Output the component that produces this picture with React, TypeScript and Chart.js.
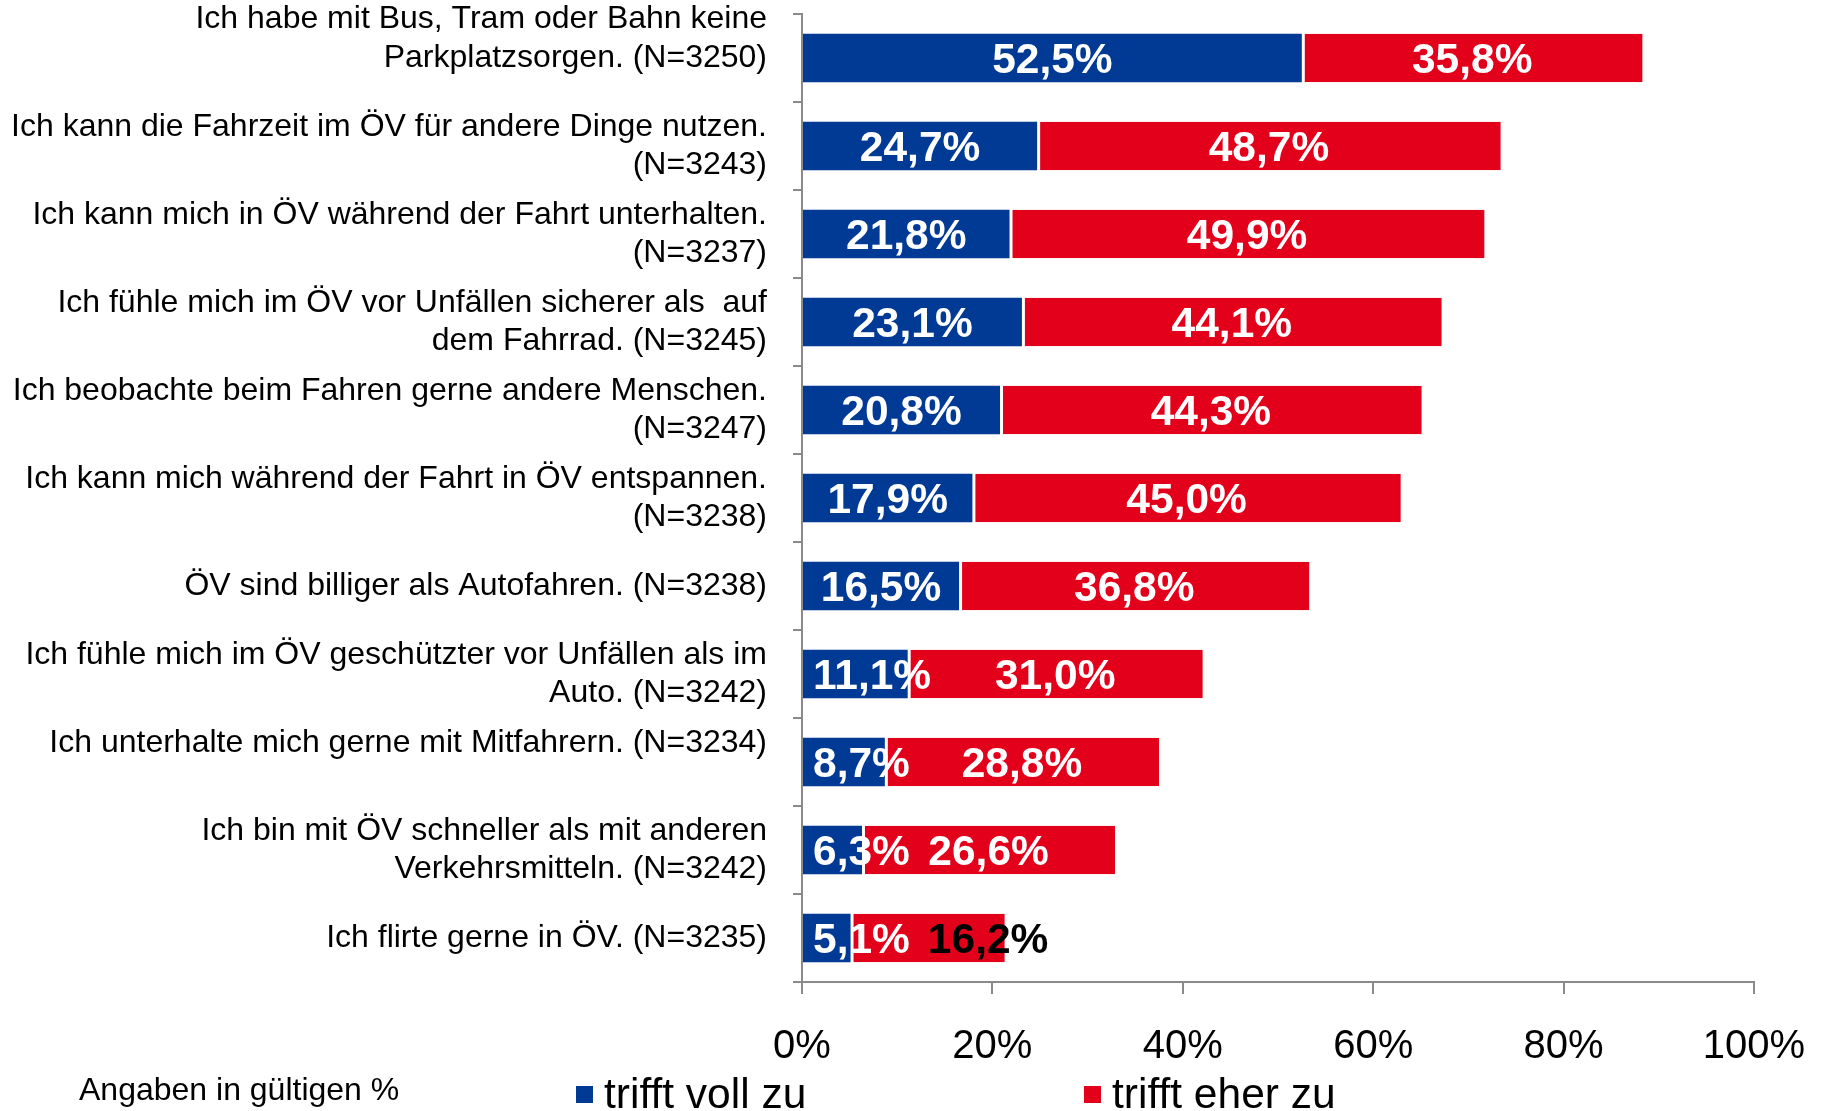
import { useEffect, useRef } from "react";
import { Chart, registerables } from "chart.js";

Chart.register(...registerables);

const categories: string[][] = [
  ["Ich habe mit Bus, Tram oder Bahn keine", "Parkplatzsorgen. (N=3250)", ""],
  ["Ich kann die Fahrzeit im ÖV für andere Dinge nutzen.", "(N=3243)"],
  ["Ich kann mich in ÖV während der Fahrt unterhalten.", "(N=3237)"],
  ["Ich fühle mich im ÖV vor Unfällen sicherer als  auf", "dem Fahrrad. (N=3245)"],
  ["Ich beobachte beim Fahren gerne andere Menschen.", "(N=3247)"],
  ["Ich kann mich während der Fahrt in ÖV entspannen.", "(N=3238)"],
  ["ÖV sind billiger als Autofahren. (N=3238)"],
  ["Ich fühle mich im ÖV geschützter vor Unfällen als im", "Auto. (N=3242)"],
  ["Ich unterhalte mich gerne mit Mitfahrern. (N=3234)", ""],
  ["Ich bin mit ÖV schneller als mit anderen", "Verkehrsmitteln. (N=3242)"],
  ["Ich flirte gerne in ÖV. (N=3235)"],
];

const trifftVollZu = [52.5, 24.7, 21.8, 23.1, 20.8, 17.9, 16.5, 11.1, 8.7, 6.3, 5.1];
const trifftEherZu = [35.8, 48.7, 49.9, 44.1, 44.3, 45.0, 36.8, 31.0, 28.8, 26.6, 16.2];
const xTickValues = [0, 20, 40, 60, 80, 100];
const seriesNames = ["trifft voll zu", "trifft eher zu"];
const noteText = "Angaben in gültigen %";

const BLUE = "#003A94";
const RED = "#E2001A";
const AXIS = "#8A8A8A";
const FONT = '"Liberation Sans", Arial, Helvetica, sans-serif';

const fmt = (v: number) => v.toFixed(1).replace(".", ",") + "%";

const labelPlugin = {
  id: "segLabels",
  afterDatasetsDraw(chart: any) {
    const ctx = chart.ctx;
    const m0 = chart.getDatasetMeta(0);
    const m1 = chart.getDatasetMeta(1);
    ctx.save();
    ctx.font = `bold 42.5px ${FONT}`;
    ctx.textAlign = "center";
    ctx.textBaseline = "middle";
    const gap = 18;
    const pad = 10;
    for (let i = 0; i < trifftVollZu.length; i++) {
      const b: any = m0.data[i];
      const r: any = m1.data[i];
      const t0 = fmt(trifftVollZu[i]);
      const w0 = ctx.measureText(t0).width;
      let c0 = (b.base + b.x) / 2;
      c0 = Math.max(c0, b.base + w0 / 2 + pad);
      ctx.fillStyle = "#FFFFFF";
      ctx.fillText(t0, c0, b.y + 3);
      const t1 = fmt(trifftEherZu[i]);
      const w1 = ctx.measureText(t1).width;
      let c1 = (r.base + r.x) / 2;
      if (c1 - w1 / 2 < c0 + w0 / 2 + gap) c1 = c0 + w0 / 2 + gap + w1 / 2;
      ctx.fillStyle = c1 + w1 / 2 > r.x + 2 ? "#000000" : "#FFFFFF";
      ctx.fillText(t1, c1, r.y + 3);
    }
    ctx.restore();
  },
  afterDraw(chart: any) {
    const ctx = chart.ctx;
    ctx.save();
    ctx.textBaseline = "middle";
    ctx.textAlign = "left";
    ctx.fillStyle = "#000000";
    ctx.font = `32px ${FONT}`;
    ctx.fillText(noteText, 79, 1091);
    ctx.font = `42.5px ${FONT}`;
    const items = [
      { x: 576, color: BLUE, text: seriesNames[0] },
      { x: 1084, color: RED, text: seriesNames[1] },
    ];
    for (const it of items) {
      ctx.fillStyle = it.color;
      ctx.fillRect(it.x, 1086, 17, 17);
      ctx.fillStyle = "#000000";
      ctx.fillText(it.text, it.x + 28, 1096);
    }
    ctx.restore();
  },
};

export default function App() {
  const ref = useRef<HTMLCanvasElement | null>(null);
  useEffect(() => {
    if (!ref.current) return;
    const chart = new Chart(ref.current, {
      type: "bar",
      data: {
        labels: categories,
        datasets: [
          {
            label: seriesNames[0],
            data: trifftVollZu,
            backgroundColor: BLUE,
            borderWidth: 0,
            categoryPercentage: 1,
            barPercentage: 0.55,
          },
          {
            label: seriesNames[1],
            data: trifftEherZu,
            backgroundColor: RED,
            borderColor: "#FFFFFF",
            borderWidth: { top: 0, right: 0, bottom: 0, left: 3 },
            borderSkipped: false,
            categoryPercentage: 1,
            barPercentage: 0.55,
          },
        ],
      },
      options: {
        indexAxis: "y",
        responsive: true,
        maintainAspectRatio: false,
        animation: false,
        layout: { padding: { top: 14, right: 73, bottom: 0, left: 0 } },
        plugins: {
          legend: { display: false },
          tooltip: { enabled: false },
        },
        scales: {
          x: {
            stacked: true,
            min: 0,
            max: 100,
            afterBuildTicks: (scale: any) => {
              scale.ticks = xTickValues.map((v) => ({ value: v }));
            },
            afterFit: (scale: any) => {
              scale.height = 129;
              scale.paddingLeft = 0;
              scale.paddingRight = 0;
            },
            grid: {
              drawOnChartArea: false,
              drawTicks: true,
              tickLength: 12,
              color: AXIS,
              lineWidth: 2,
            },
            border: { display: true, color: AXIS, width: 2 },
            ticks: {
              font: { family: FONT, size: 40 },
              color: "#000000",
              padding: 29,
              maxRotation: 0,
              callback: (v: any) => `${v}%`,
            },
          },
          y: {
            stacked: true,
            afterFit: (scale: any) => {
              scale.width = 802;
              scale.paddingTop = 0;
              scale.paddingBottom = 0;
            },
            grid: {
              drawOnChartArea: false,
              drawTicks: true,
              tickLength: 9,
              offset: true,
              color: AXIS,
              lineWidth: 2,
            },
            border: { display: true, color: AXIS, width: 2 },
            ticks: {
              font: { family: FONT, size: 32, lineHeight: 1.2 },
              color: "#000000",
              padding: 26,
              autoSkip: false,
            },
          },
        },
      },
      plugins: [labelPlugin],
    } as any);
    return () => chart.destroy();
  }, []);
  return (
    <div style={{ position: "fixed", left: 0, top: 0, width: 1827, height: 1111, background: "#fff" }}>
      <canvas ref={ref} />
    </div>
  );
}
